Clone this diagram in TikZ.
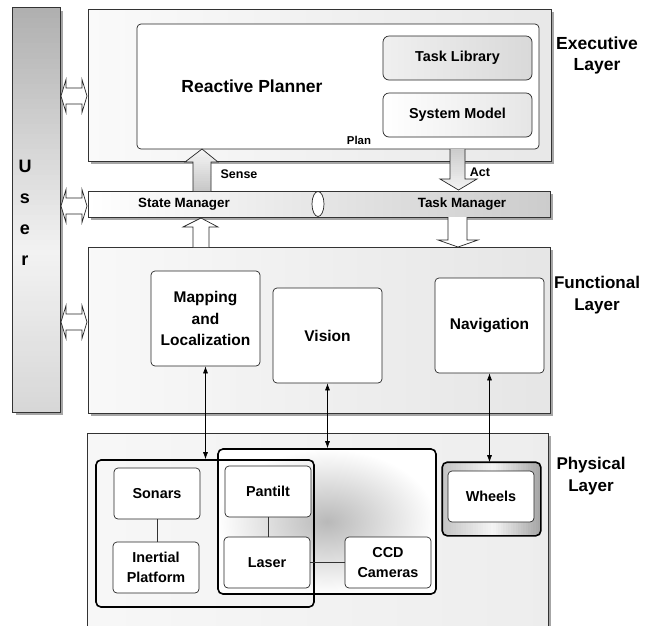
\documentclass[tikz,border=0pt]{standalone}
\usepackage{fontspec}
\setmainfont{Liberation Sans}
\usetikzlibrary{shadows,shapes.geometric,arrows.meta,calc}
\tikzset{
  layerbox/.style={draw=black!80, line width=0.8pt, inner sep=0pt,
    drop shadow={shadow xshift=2.5pt, shadow yshift=-2.5pt, opacity=0.35, fill=black}},
  ibox/.style={draw=black!85, line width=0.7pt, rounded corners=4pt, fill=white,
    inner sep=0pt, align=center, font=\bfseries\fontsize{15.5}{21.7}\selectfont},
  pbox/.style={draw=black!85, line width=0.7pt, rounded corners=4pt, fill=white,
    inner sep=0pt, align=center, minimum width=86pt, minimum height=51pt,
    font=\bfseries\fontsize{14.4}{20}\selectfont},
  grpbox/.style={draw=black, line width=1.6pt, rounded corners=5pt, inner sep=0pt},
  lbl/.style={inner sep=0pt, align=center},
  blockarrow/.style={draw=black!85, line width=0.7pt},
  link/.style={line width=0.6pt, {Latex[length=7pt,width=5pt]}-{Latex[length=7pt,width=5pt]}},
  thinline/.style={line width=0.6pt, draw=black!80}
}
\begin{document}
\begin{tikzpicture}[x=1pt,y=-1pt]
\useasboundingbox (0,0) rectangle (656,625);
\clip (0,0) rectangle (656,625);

% User bar
\node[layerbox, fill=white, minimum width=47pt, minimum height=404pt] (user) at (36.5,210) {};
\begin{scope}
  \clip (user.north west) rectangle (user.south east);
  \foreach \i in {0,...,80} {
    \pgfmathsetmacro\yy{8+\i*5.05}
    \pgfmathsetmacro\pp{\yy<250 ? 62-(\yy-8)/242*52 : 10+(\yy-250)/162*22}
    \fill[gray!\pp] (13,\yy) rectangle (60,\yy+5.6);
  }
\end{scope}
\draw[draw=black!80, line width=0.8pt] (user.north west) rectangle (user.south east);
\node[lbl, font=\bfseries\fontsize{18}{31}\selectfont] (usertext) at (25,213) {U\\s\\e\\r};

% Executive layer
\node[layerbox, minimum width=463pt, minimum height=152pt, left color=gray!4, right color=gray!18] (exec) at (319.5,85) {};
\node[ibox, minimum width=402pt, minimum height=125pt] (rp) at (338,86.5) {};
\node[lbl, font=\bfseries\fontsize{17.5}{21}\selectfont] (rptext) at (252,86) {Reactive Planner};
\node[ibox, minimum width=149pt, minimum height=44pt, rounded corners=6pt, left color=gray!12, right color=gray!30,
  font=\bfseries\fontsize{14.4}{18}\selectfont] (tasklib) at (457.5,58) {Task Library};
\node[ibox, minimum width=149pt, minimum height=44pt, rounded corners=6pt, left color=white, right color=gray!20,
  font=\bfseries\fontsize{14.4}{18}\selectfont] (sysmodel) at (457.5,115) {System Model};
\node[lbl, font=\bfseries\fontsize{11.4}{14}\selectfont] (plan) at (359,140) {Plan};
\node[lbl, font=\bfseries\fontsize{17.5}{21.5}\selectfont] (execlbl) at (597,55.5) {Executive\\Layer};

% Manager bar
\node[layerbox, minimum width=462pt, minimum height=26pt, left color=white, right color=gray!40] (bar) at (319,204) {};
\node[draw=black!85, line width=0.7pt, fill=white, ellipse, minimum width=12pt, minimum height=25pt, inner sep=0pt] (sep) at (318,204) {};
\node[lbl, font=\bfseries\fontsize{13.4}{16}\selectfont] (statemgr) at (184,204) {State Manager};
\node[lbl, font=\bfseries\fontsize{13.4}{16}\selectfont] (taskmgr) at (462,204) {Task Manager};

% Functional layer
\node[layerbox, minimum width=462pt, minimum height=166pt, left color=gray!5, right color=gray!20] (func) at (319,330) {};
\node[ibox, minimum width=109pt, minimum height=95pt] (mapping) at (205.5,318.5) {Mapping\\and\\Localization};
\node[ibox, minimum width=109pt, minimum height=95pt] (vision) at (327.5,335.5) {Vision};
\node[ibox, minimum width=109pt, minimum height=95pt] (nav) at (489.5,325.5) {Navigation};
\node[lbl, font=\bfseries\fontsize{17}{22}\selectfont] (funclbl) at (597,295) {Functional\\Layer};

% Physical layer
\node[layerbox, minimum width=461pt, minimum height=220pt, left color=gray!6, right color=gray!14] (phys) at (317.5,543) {};
\node[grpbox, minimum width=218pt, minimum height=145pt, shading=radial, inner color=gray!55, outer color=white] (midgrp) at (327,521.5) {};
\node[grpbox, minimum width=218pt, minimum height=147pt] (leftgrp) at (205,533.5) {};
\node[grpbox, minimum width=97pt, minimum height=72pt] (wheelsout) at (491.5,499) {};
\begin{scope}
  \clip[rounded corners=5pt] (wheelsout.north west) rectangle (wheelsout.south east);
  \foreach \i in {0,...,39} {
    \pgfmathsetmacro\xx{443+\i*2.5}
    \pgfmathsetmacro\pp{\xx<491.5 ? 45-(\xx-443)/48.5*37 : 8+(\xx-491.5)/48.5*64}
    \fill[gray!\pp] (\xx,463) rectangle (\xx+2.9,535);
  }
\end{scope}
\draw[draw=black, line width=1.6pt, rounded corners=5pt] (wheelsout.north west) rectangle (wheelsout.south east);
\node[pbox] (sonars) at (157,493.5) {Sonars};
\node[pbox] (inertial) at (156,567.5) {Inertial\\Platform};
\node[pbox] (pantilt) at (268,491.5) {Pantilt};
\node[pbox] (laser) at (267,562.5) {Laser};
\node[pbox] (ccd) at (388,562.5) {CCD\\Cameras};
\node[pbox] (wheels) at (491,496.5) {Wheels};
\node[lbl, font=\bfseries\fontsize{17}{22}\selectfont] (physlbl) at (591,476.5) {Physical\\Layer};

% physical connections
\draw[thinline] (sonars.south) -- (inertial.north -| sonars.south);
\draw[thinline] (pantilt.south) -- (laser.north -| pantilt.south);
\draw[thinline] (laser.east) -- (ccd.west);

% links functional <-> physical
\draw[link] (mapping.south) -- (mapping.south |- leftgrp.north);
\draw[link] (vision.south) -- (vision.south |- midgrp.north);
\draw[link] (nav.south) -- (nav.south |- wheelsout.north);

% Sense arrow (up)
\begin{scope}
  \clip (193,191) -- (193,162) -- (185,162) -- (202,149) -- (218,162) -- (211,162) -- (211,191) -- cycle;
  \foreach \i in {0,...,20} {
    \pgfmathsetmacro\yy{149+\i*2.1}
    \pgfmathsetmacro\pp{8+(\yy-149)/42*37}
    \fill[gray!\pp] (183,\yy) rectangle (220,\yy+2.5);
  }
\end{scope}
\draw[blockarrow] (193,191) -- (193,162) -- (185,162) -- (202,149) -- (218,162) -- (211,162) -- (211,191);
\node[lbl, font=\bfseries\fontsize{12.5}{15}\selectfont] (sense) at (239,174) {Sense};

% Act arrow (down)
\begin{scope}
  \clip (450,149) -- (450,179) -- (440,179) -- (458.5,190) -- (477,179) -- (465,179) -- (465,149) -- cycle;
  \foreach \i in {0,...,20} {
    \pgfmathsetmacro\yy{149+\i*2.05}
    \pgfmathsetmacro\pp{40-(\yy-149)/41*32}
    \fill[gray!\pp] (438,\yy) rectangle (479,\yy+2.5);
  }
\end{scope}
\draw[blockarrow] (450,149) -- (450,179) -- (440,179) -- (458.5,190) -- (477,179) -- (465,179) -- (465,149);
\node[lbl, font=\bfseries\fontsize{12.5}{15}\selectfont] (act) at (480,172) {Act};

% State manager <- functional (up)
\filldraw[blockarrow, fill=white] (193,247) -- (193,227) -- (183,227) -- (201,218) -- (218,227) -- (209,227) -- (209,247);
% Task manager -> functional (down)
\filldraw[blockarrow, fill=white] (448,217) -- (448,240) -- (438,240) -- (458,247) -- (478,240) -- (467,240) -- (467,217);

% User double arrows
\foreach \yy in {96,206,322} {
  \filldraw[blockarrow, fill=white] (61,\yy) -- (66,\yy-16.5) -- (66,\yy-8) -- (82,\yy-8) -- (82,\yy-16.5)
    -- (87,\yy) -- (82,\yy+16.5) -- (82,\yy+8) -- (66,\yy+8) -- (66,\yy+16.5) -- cycle;
}
\end{tikzpicture}
\end{document}
